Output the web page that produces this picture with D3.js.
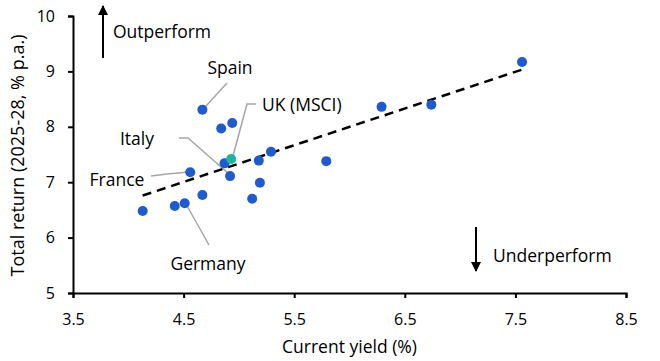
<!DOCTYPE html>
<html lang="en">
  <head>
    <meta charset="utf-8">
    <title>Total return vs current yield</title>
    <script src="https://cdn.jsdelivr.net/npm/d3@7"></script>
    <style>
      body { margin: 0; background: #fff; }
      svg text { font-family: "Open Sans", "Noto Sans", sans-serif; fill: #000; }
    </style>
  </head>
  <body>
    <script>
      // current yield (%) and total return 2025-28 (% p.a.)
      var yields  = [4.13, 4.42, 4.51, 4.67, 4.56, 4.67, 4.84, 4.94, 4.87, 4.93, 4.92, 5.18, 5.29, 5.19, 5.12, 5.79, 6.29, 6.74, 7.56];
      var returns = [6.48, 6.57, 6.62, 6.77, 7.18, 8.31, 7.97, 8.07, 7.34, 7.42, 7.11, 7.39, 7.55, 6.99, 6.70, 7.38, 8.36, 8.40, 9.17];
      var countries = ["", "", "Germany", "", "France", "Spain", "", "", "", "UK (MSCI)", "Italy", "", "", "", "", "", "", "", ""];
      var xTicks = [3.5, 4.5, 5.5, 6.5, 7.5, 8.5];
      var yTicks = [5, 6, 7, 8, 9, 10];

      var w = 660, h = 361;
      var m = {left: 73, right: 34, top: 16, bottom: 68};

      var x = d3.scaleLinear().domain([3.5, 8.5]).range([m.left, w - m.right]);
      var y = d3.scaleLinear().domain([5, 10]).range([h - m.bottom, m.top]);

      var svg = d3.select("body").append("svg")
                  .attr("width", w)
                  .attr("height", h);

      svg.append("defs").append("marker")
         .attr("id", "head")
         .attr("viewBox", "0 0 10 10")
         .attr("refX", 9).attr("refY", 5)
         .attr("markerWidth", 12).attr("markerHeight", 10)
         .attr("markerUnits", "userSpaceOnUse")
         .attr("orient", "auto")
        .append("path")
         .attr("d", "M0,0 L10,5 L0,10 z")
         .attr("fill", "#000");

      // axes
      var xAxis = svg.append("g")
         .attr("transform", "translate(0," + y(5) + ")")
         .call(d3.axisBottom(x).tickValues(xTicks).tickSize(5).tickPadding(16).tickFormat(d3.format(".1f")));
      var yAxis = svg.append("g")
         .attr("transform", "translate(" + x(3.5) + ",0)")
         .call(d3.axisLeft(y).tickValues(yTicks).tickSize(5).tickPadding(13).tickFormat(d3.format("d")));

      [xAxis, yAxis].forEach(function(a) {
        a.select(".domain").attr("stroke", "#000").attr("stroke-width", 2);
        a.selectAll(".tick line").attr("stroke", "#000").attr("stroke-width", 2);
        a.selectAll("text").style("font-size", "16px").attr("fill", "#000");
      });

      svg.append("text")
         .attr("x", (x(3.5) + x(8.5)) / 2)
         .attr("y", 353)
         .attr("text-anchor", "middle")
         .style("font-size", "17.5px")
         .text("Current yield (%)");

      svg.append("text")
         .attr("transform", "translate(24," + (y(7.5) + 1) + ") rotate(-90)")
         .attr("text-anchor", "middle")
         .style("font-size", "18px")
         .text("Total return (2025-28, % p.a.)");

      // trend line (least squares)
      var mx = d3.mean(yields), my = d3.mean(returns);
      var sxy = d3.sum(yields, function(d, i) { return (d - mx) * (returns[i] - my); });
      var sxx = d3.sum(yields, function(d) { return (d - mx) * (d - mx); });
      var slope = sxy / sxx, icpt = my - slope * mx;
      var x0 = d3.min(yields), x1 = d3.max(yields);

      // annotation leaders
      var leaders = {
        "Spain":     [[227, 83], [206, 106]],
        "UK (MSCI)": [[256, 104], [247, 104], [233, 156]],
        "Italy":     [[179, 138], [188, 138], [229, 174]],
        "France":    [[151, 176], [167, 174], [189, 172]],
        "Germany":   [[209, 245], [186, 204]]
      };
      var labels = [
        {t: "Spain", x: 230, y: 74, a: "middle"},
        {t: "UK (MSCI)", x: 262, y: 111, a: "start"},
        {t: "Italy", x: 137, y: 145, a: "middle"},
        {t: "France", x: 117, y: 186, a: "middle"},
        {t: "Germany", x: 208, y: 270, a: "middle"}
      ];
      Object.keys(leaders).forEach(function(k) {
        svg.append("path")
           .attr("d", d3.line()(leaders[k]))
           .attr("fill", "none")
           .attr("stroke", "#a6a6a6")
           .attr("stroke-width", 1.5);
      });

      svg.append("line")
         .attr("x1", x(x0)).attr("y1", y(icpt + slope * x0))
         .attr("x2", x(x1)).attr("y2", y(icpt + slope * x1))
         .attr("stroke", "#000")
         .attr("stroke-width", 2.5)
         .attr("stroke-dasharray", "9,6");

      svg.selectAll("circle.pt")
         .data(yields)
         .enter()
         .append("circle")
         .attr("class", "pt")
         .attr("cx", function(d) { return x(d); })
         .attr("cy", function(d, i) { return y(returns[i]); })
         .attr("r", 5)
         .attr("fill", function(d, i) { return countries[i] === "UK (MSCI)" ? "#1db5a0" : "#1f5bd0"; });

      svg.selectAll("text.lbl")
         .data(labels)
         .enter()
         .append("text")
         .attr("class", "lbl")
         .attr("x", function(d) { return d.x; })
         .attr("y", function(d) { return d.y; })
         .attr("text-anchor", function(d) { return d.a; })
         .style("font-size", "17.5px")
         .text(function(d) { return d.t; });

      // outperform / underperform arrows
      svg.append("line")
         .attr("x1", 103).attr("y1", 58).attr("x2", 103).attr("y2", 6)
         .attr("stroke", "#000").attr("stroke-width", 2)
         .attr("marker-end", "url(#head)");
      svg.append("text")
         .attr("x", 113).attr("y", 38)
         .style("font-size", "17.5px")
         .text("Outperform");
      svg.append("line")
         .attr("x1", 476).attr("y1", 227).attr("x2", 476).attr("y2", 271)
         .attr("stroke", "#000").attr("stroke-width", 2)
         .attr("marker-end", "url(#head)");
      svg.append("text")
         .attr("x", 493).attr("y", 262)
         .style("font-size", "17.5px")
         .text("Underperform");
    </script>
  </body>
</html>
